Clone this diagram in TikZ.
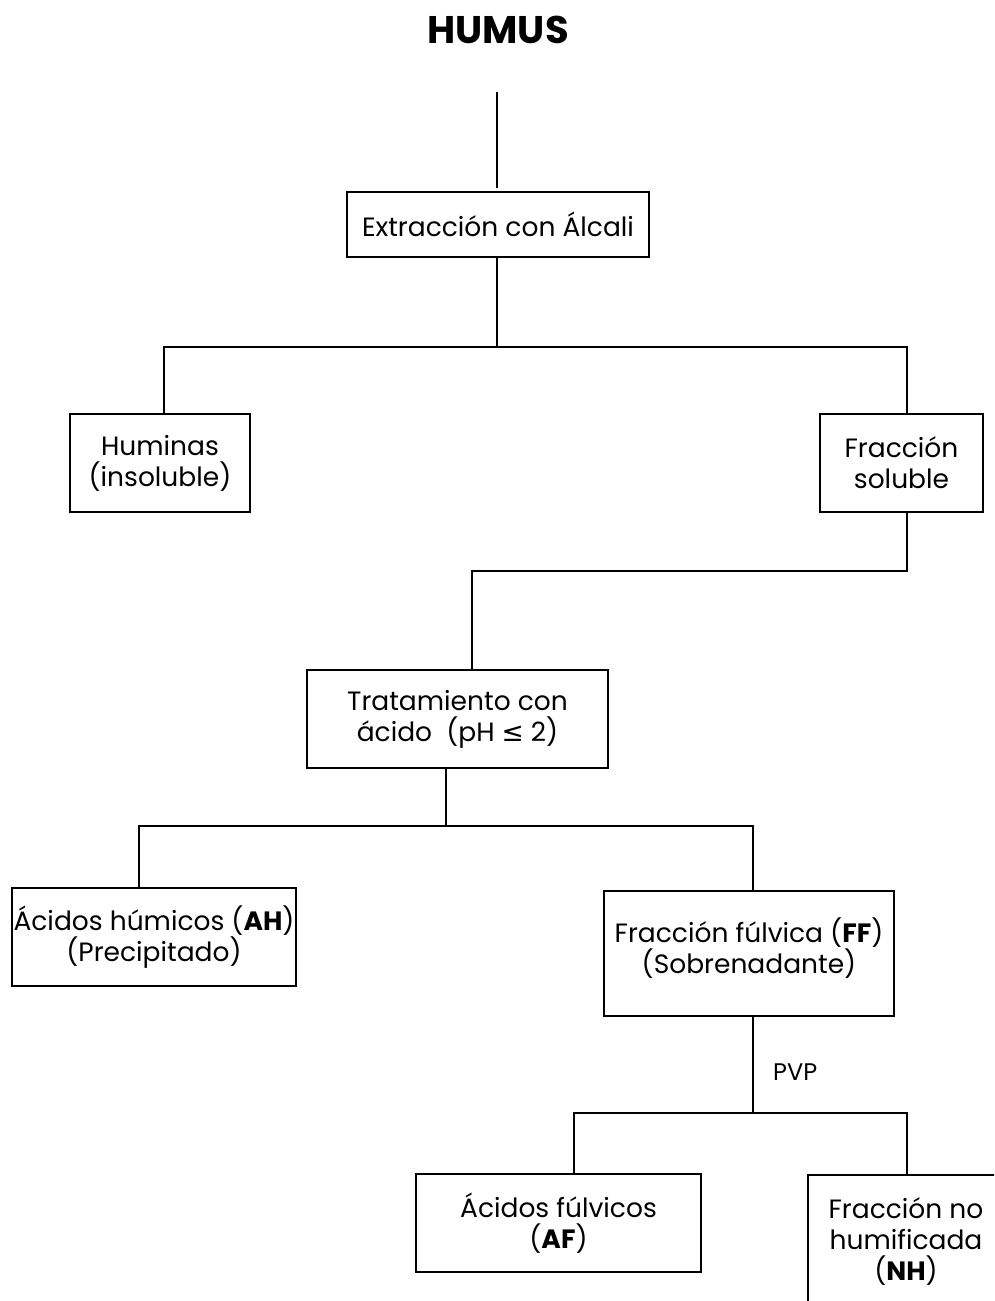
\documentclass[tikz,border=0pt]{standalone}
\usepackage{fontspec}
\setmainfont{Poppins}
\newfontfamily\symfont{DejaVu Sans}
\begin{document}
\begin{tikzpicture}[x=1pt,y=-1pt]
\tikzset{
  boxnode/.style={draw, line width=1.7pt, align=center, inner sep=0pt,
    font=\fontsize{26.5}{31}\selectfont},
  conn/.style={line width=1.7pt},
  labeltext/.style={font=\fontsize{24}{30}\selectfont, inner sep=0pt}
}
\useasboundingbox (0,0) rectangle (994,1301);
\clip (0,0) rectangle (994,1301);

% title
\node[font=\bfseries\fontsize{38.5}{42}\selectfont, inner sep=0pt] (title) at (498,30) {HUMUS};

% boxes
\node[boxnode, minimum width=302, minimum height=65] (ext) at (498,224.5) {Extracción con Álcali};
\node[boxnode, minimum width=180, minimum height=98] (hum) at (160,463) {Huminas\\(insoluble)};
\node[boxnode, minimum width=163, minimum height=98] (sol) at (901.5,463) {Fracción\\soluble};
\node[boxnode, minimum width=301, minimum height=98] (acid) at (457.5,719) {Tratamiento con\\ácido\ \ (pH {\symfont ≤} 2)};
\node[boxnode, minimum width=284, minimum height=98] (ah) at (154,937) {Ácidos húmicos (\textbf{AH})\\(Precipitado)};
\node[boxnode, minimum width=290, minimum height=125,
  label={[boxnode, draw=none, yshift=5pt]center:Fracción fúlvica (\textbf{FF})\\(Sobrenadante)}] (ff) at (749,953.5) {};
\node[boxnode, minimum width=285, minimum height=98] (af) at (558.5,1223) {Ácidos fúlvicos\\(\textbf{AF})};
\node[boxnode, minimum width=196, minimum height=133] (nh) at (906,1241.5) {Fracción no\\humificada\\(\textbf{NH})};

% junction points
\coordinate (top) at (497,92);
\coordinate (j1) at (497,347);
\coordinate (j1l) at (164,347);
\coordinate (j1r) at (907,347);
\coordinate (j2r) at (907,571);
\coordinate (j2l) at (472,571);
\coordinate (j3) at (446,826);
\coordinate (j3l) at (139,826);
\coordinate (j3r) at (753,826);
\coordinate (j4) at (753,1113);
\coordinate (j4l) at (574,1113);
\coordinate (j4r) at (907,1113);

% connectors
\draw[conn, shorten >=3pt] (top) -- (top |- ext.north);
\draw[conn] (ext.south -| j1) -- (j1);
\draw[conn] (hum.north -| j1l) -- (j1l) -- (j1r) -- (sol.north -| j1r);
\draw[conn] (sol.south -| j2r) -- (j2r) -- (j2l) -- (acid.north -| j2l);
\draw[conn] (acid.south -| j3) -- (j3);
\draw[conn] (ah.north -| j3l) -- (j3l) -- (j3r) -- (ff.north -| j3r);
\draw[conn] (ff.south -| j4) -- (j4);
\draw[conn] (af.north -| j4l) -- (j4l) -- (j4r) -- (nh.north -| j4r);

% reagent label
\node[labeltext, anchor=base west] (pvp) at (773,1080) {PVP};
\end{tikzpicture}
\end{document}
